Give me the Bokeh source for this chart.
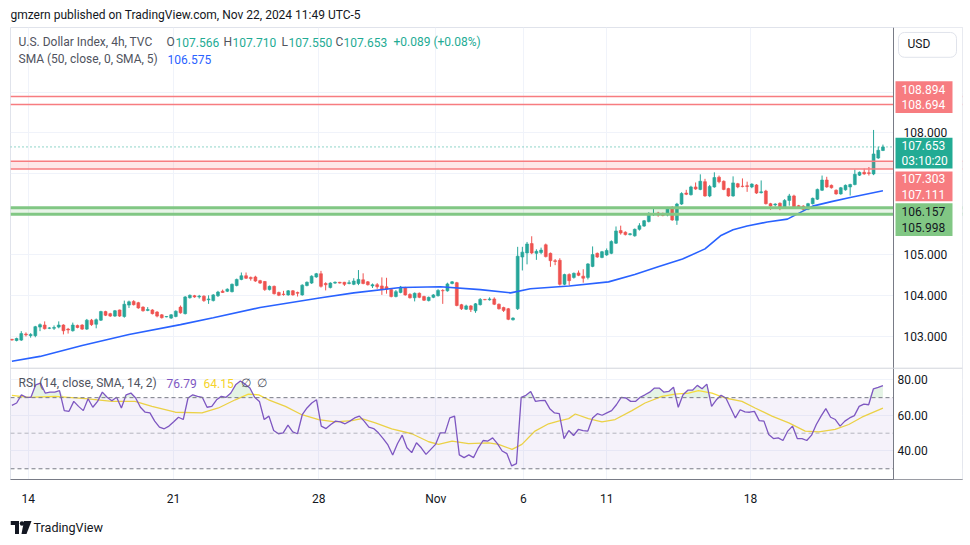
import numpy as np
from bokeh.plotting import figure
from bokeh.layouts import column
from bokeh.models import Range1d, FixedTicker, Span, BoxAnnotation, Label, ColumnDataSource
from bokeh.embed import file_html
from bokeh.resources import INLINE

# ---------------- data ----------------
opens = [102.93, 102.90, 102.91, 103.06, 103.02, 103.02, 103.23, 103.28, 103.20, 103.20,
         103.23, 103.28, 103.18, 103.14, 103.27, 103.28, 103.18, 103.40, 103.30, 103.40,
         103.61, 103.56, 103.50, 103.65, 103.49, 103.77, 103.86, 103.83, 103.72, 103.64,
         103.65, 103.60, 103.53, 103.48, 103.45, 103.49, 103.72,
         103.56, 103.95, 104.00, 103.97, 103.99, 103.90, 103.88, 104.00, 104.11, 104.11,
         104.10, 104.25, 104.40, 104.49, 104.45, 104.46, 104.37, 104.35, 104.15, 104.23,
         104.08, 104.04, 104.02, 104.12, 104.08, 104.02, 104.25, 104.31, 104.46, 104.54,
         104.30, 104.20, 104.31, 104.33, 104.33, 104.30, 104.28,
         104.30, 104.39, 104.34, 104.24, 104.27, 104.24, 104.22, 104.15, 103.98, 104.08,
         104.20, 104.03, 103.95, 104.06, 103.98, 103.88, 103.96, 104.00, 104.13, 104.12,
         104.30, 104.32, 103.78, 103.67, 103.75, 103.63, 103.78, 103.91, 103.90, 103.92,
         103.79, 103.71, 103.68, 103.41, 103.68, 104.95, 105.05,
         105.28, 105.04, 105.06, 105.25, 105.04, 104.86, 104.87, 104.28, 104.52, 104.45,
         104.56, 104.48, 104.45, 104.72, 105.04, 104.94, 105.00, 105.04, 105.29, 105.60,
         105.56, 105.50, 105.47, 105.63, 105.71, 105.82, 105.99, 106.03, 106.02, 105.98,
         106.16, 105.85, 106.25, 106.52, 106.48, 106.67, 106.61,
         106.80, 106.45, 106.67, 106.91, 106.81, 106.63, 106.45, 106.75, 106.69, 106.70,
         106.67, 106.72, 106.53, 106.57, 106.26, 106.23, 106.27, 106.15, 106.34, 106.45,
         106.21, 106.20, 106.12, 106.26, 106.37, 106.59, 106.84, 106.71, 106.59, 106.50,
         106.60, 106.67, 106.73, 106.96, 107.03, 107.02, 106.99, 107.38, 107.566]
highs = [102.94, 102.97, 103.13, 103.10, 103.08, 103.26, 103.32, 103.37, 103.23, 103.27,
         103.37, 103.30, 103.21, 103.34, 103.29, 103.30, 103.43, 103.43, 103.44, 103.63,
         103.63, 103.58, 103.65, 103.66, 103.88, 103.88, 103.89, 103.85, 103.74, 103.72,
         103.67, 103.62, 103.55, 103.50, 103.55, 103.64, 103.76,
         103.99, 104.03, 104.02, 104.02, 104.01, 104.01, 104.04, 104.12, 104.15, 104.18,
         104.30, 104.42, 104.57, 104.57, 104.47, 104.49, 104.39, 104.36, 104.25, 104.25,
         104.10, 104.12, 104.14, 104.14, 104.10, 104.28, 104.35, 104.50, 104.56, 104.61,
         104.33, 104.33, 104.35, 104.34, 104.34, 104.38, 104.43,
         104.63, 104.55, 104.36, 104.30, 104.31, 104.45, 104.44, 104.18, 104.14, 104.24,
         104.22, 104.06, 104.08, 104.08, 104.00, 103.98, 104.04, 104.16, 104.16, 104.32,
         104.36, 104.34, 103.80, 103.78, 103.77, 103.82, 103.94, 103.92, 103.96, 103.96,
         103.81, 103.73, 103.70, 103.47, 105.20, 105.20, 105.32,
         105.46, 105.14, 105.18, 105.28, 105.06, 104.90, 104.92, 104.54, 104.55, 104.57,
         104.62, 104.65, 104.80, 105.21, 105.06, 105.10, 105.16, 105.36, 105.70, 105.72,
         105.58, 105.54, 105.65, 105.78, 105.86, 106.05, 106.17, 106.06, 106.04, 106.18,
         106.20, 106.28, 106.54, 106.60, 106.70, 106.78, 106.98,
         106.87, 106.72, 107.03, 106.95, 106.83, 106.65, 106.93, 106.77, 106.88, 106.80,
         106.76, 106.74, 106.83, 106.60, 106.28, 106.27, 106.29, 106.37, 106.50, 106.48,
         106.23, 106.22, 106.28, 106.41, 106.63, 106.95, 106.92, 106.73, 106.61, 106.67,
         106.73, 106.75, 107.10, 107.05, 107.12, 107.16, 108.07, 107.66, 107.710]
lows = [102.90, 102.88, 102.89, 103.00, 102.97, 102.98, 103.13, 103.17, 103.18, 103.16,
        103.20, 103.05, 103.07, 103.12, 103.20, 103.16, 103.16, 103.26, 103.20, 103.38,
        103.50, 103.48, 103.48, 103.48, 103.46, 103.70, 103.76, 103.68, 103.61, 103.62,
        103.54, 103.47, 103.44, 103.47, 103.43, 103.47, 103.56,
        103.54, 103.93, 103.95, 103.93, 103.85, 103.80, 103.86, 103.97, 104.07, 104.09,
        104.08, 104.23, 104.38, 104.41, 104.37, 104.34, 104.29, 104.12, 104.13, 104.03,
        103.99, 104.00, 104.00, 104.00, 103.98, 104.00, 104.23, 104.29, 104.44, 104.20,
        104.13, 104.18, 104.29, 104.30, 104.24, 104.28, 104.26,
        104.26, 104.28, 104.25, 104.19, 104.17, 104.02, 104.05, 103.96, 103.96, 104.06,
        104.00, 103.93, 103.86, 103.94, 103.87, 103.86, 103.94, 103.98, 103.80, 104.10,
        104.28, 103.74, 103.65, 103.65, 103.60, 103.58, 103.76, 103.89, 103.88, 103.77,
        103.66, 103.60, 103.40, 103.39, 103.65, 104.62, 104.77,
        105.02, 104.88, 105.02, 104.94, 104.71, 104.75, 104.25, 104.26, 104.25, 104.42,
        104.48, 104.32, 104.40, 104.70, 104.93, 104.92, 104.98, 105.02, 105.27, 105.50,
        105.48, 105.48, 105.45, 105.60, 105.69, 105.80, 105.96, 105.94, 105.95, 105.95,
        105.84, 105.74, 106.23, 106.47, 106.46, 106.60, 106.59,
        106.43, 106.42, 106.65, 106.76, 106.59, 106.43, 106.43, 106.64, 106.66, 106.55,
        106.64, 106.50, 106.51, 106.24, 106.11, 106.19, 106.10, 106.13, 106.21, 106.16,
        106.13, 106.10, 106.10, 106.24, 106.35, 106.57, 106.65, 106.63, 106.48, 106.48,
        106.58, 106.46, 106.71, 106.94, 106.97, 106.95, 106.96, 107.36, 107.550]
closes = [102.91, 102.95, 103.07, 103.04, 103.05, 103.24, 103.29, 103.19, 103.21, 103.22,
          103.28, 103.14, 103.16, 103.28, 103.22, 103.18, 103.40, 103.29, 103.41, 103.61,
          103.52, 103.50, 103.63, 103.50, 103.79, 103.85, 103.78, 103.70, 103.63, 103.66,
          103.56, 103.50, 103.46, 103.49, 103.53, 103.62, 103.58,
          103.97, 104.01, 103.97, 103.99, 103.88, 103.92, 104.02, 104.09, 104.08, 104.16,
          104.28, 104.40, 104.49, 104.43, 104.42, 104.36, 104.31, 104.15, 104.23, 104.05,
          104.01, 104.03, 104.12, 104.02, 104.06, 104.26, 104.33, 104.48, 104.54, 104.23,
          104.27, 104.31, 104.33, 104.31, 104.28, 104.32, 104.36,
          104.40, 104.30, 104.27, 104.27, 104.22, 104.16, 104.16, 103.98, 104.10, 104.21,
          104.02, 103.95, 104.06, 103.96, 103.89, 103.96, 104.02, 104.13, 104.12, 104.29,
          104.34, 103.76, 103.68, 103.75, 103.66, 103.80, 103.91, 103.90, 103.92, 103.79,
          103.68, 103.64, 103.42, 103.45, 104.97, 105.07, 105.27,
          105.05, 105.09, 105.12, 104.96, 104.86, 104.84, 104.28, 104.52, 104.37, 104.55,
          104.50, 104.43, 104.78, 105.01, 104.95, 105.08, 105.11, 105.33, 105.59, 105.54,
          105.50, 105.52, 105.63, 105.72, 105.84, 106.02, 106.01, 105.98, 105.97, 106.15,
          105.86, 106.25, 106.51, 106.49, 106.67, 106.62, 106.81,
          106.45, 106.68, 106.90, 106.80, 106.61, 106.45, 106.77, 106.67, 106.68, 106.68,
          106.74, 106.52, 106.55, 106.26, 106.20, 106.25, 106.17, 106.34, 106.45, 106.18,
          106.15, 106.12, 106.26, 106.39, 106.61, 106.84, 106.67, 106.65, 106.50, 106.65,
          106.71, 106.73, 106.98, 107.03, 106.99, 107.00, 107.48, 107.57, 107.653]

sma_x = [0, 6, 15, 25, 36, 43, 53, 66, 73, 83, 91.5, 100, 106.5, 110.7, 119, 127.4, 133,
         138, 143.2, 148, 151.3, 154, 157, 161.3, 165.6, 171, 175, 179, 186]
sma_v = [102.39, 102.51, 102.78, 103.05, 103.29, 103.46, 103.71, 103.95, 104.07, 104.20,
         104.22, 104.15, 104.07, 104.17, 104.24, 104.34, 104.52, 104.71, 104.90, 105.15,
         105.47, 105.62, 105.71, 105.81, 105.88, 106.20, 106.31, 106.41, 106.575]

rsi = [65.7, 67.0, 71.6, 70.2, 70.2, 77.2, 78.2, 72.6, 73.1, 73.1,
       73.9, 62.7, 62.3, 67.9, 65.1, 62.7, 69.4, 64.6, 67.9, 73.1,
       70.2, 68.3, 70.2, 64.2, 71.6, 72.6, 69.8, 64.6, 61.8, 61.4,
       56.8, 53.4, 52.5, 54.0, 56.4, 59.0, 57.7, 69.8, 71.6, 70.7,
       70.2, 64.6, 65.1, 68.8, 70.7, 70.2, 72.6, 77.2, 79.4, 77.6,
       75.4, 70.2, 67.9, 57.7, 59.6, 51.5, 49.7, 50.2, 54.5, 50.8,
       49.7, 60.4, 64.2, 67.0, 68.8, 54.0, 52.6, 54.9, 56.8, 56.4,
       55.3, 56.8, 58.6, 59.6, 56.8, 53.4, 52.6, 50.2, 47.0, 43.4,
       37.8, 44.1, 48.9, 41.8, 39.1, 44.6, 41.8, 38.1, 40.9, 43.7,
       50.2, 50.2, 58.6, 59.6,
       37.8, 36.3, 37.8, 36.3, 41.8, 45.9, 45.6, 47.4, 44.1, 40.0,
       38.5, 31.6, 32.9, 70.2, 71.3, 73.5, 67.9, 68.3, 68.5, 63.8,
       61.4, 61.0, 47.0, 51.5, 48.7, 52.1, 51.5, 51.2, 58.6, 61.0,
       60.1, 61.4, 62.7, 66.0, 70.2, 69.8, 67.9, 67.9, 70.2, 71.6,
       73.1, 75.4, 75.4, 73.1, 73.5, 75.9, 64.6, 71.6, 74.2, 74.2,
       76.9, 75.0, 77.6, 65.1, 68.8, 71.3, 69.8, 64.2, 58.6, 63.2,
       62.0, 61.8, 62.3, 57.1, 56.8, 49.3, 47.0, 47.4, 45.9, 51.2,
       54.0, 47.0, 47.0, 45.9, 48.9, 54.9, 59.6, 63.8, 59.0, 57.7,
       54.0, 56.8, 58.6, 59.9, 65.1, 66.4, 66.0, 75.0, 75.8, 76.79]

rsi_ma_x = [0, 3.6, 9.2, 15.7, 21.4, 26.3, 29.9, 34.9, 40.6, 44.1, 47.7, 50.5, 52.7,
            54.8, 58.4, 61.9, 65.5, 69.0, 72.6, 74.7, 77.6, 81.1, 85.4, 89.0, 91.1,
            94.0, 97.5, 101.8, 103.9, 106.8, 108.9, 111.7, 114.6, 116.7, 118.9, 120.3,
            123.1, 126.0, 128.8, 132.4, 135.2, 138.8, 141.6, 144.5, 146.6, 149.5, 152.3,
            155.9, 158.7, 162.3, 165.9, 169.4, 172.3, 175.8, 178.7, 181.5, 186]
rsi_ma_v = [71.3, 70.2, 70.7, 69.4, 67.9, 67.9, 65.1, 61.8, 61.4, 64.2, 68.8, 72.0, 71.6,
            68.8, 65.1, 60.4, 57.7, 56.4, 57.1, 58.2, 55.8, 52.5, 49.7, 45.2, 43.7,
            45.6, 44.1, 44.6, 43.7, 40.9, 43.7, 51.2, 55.3, 56.8, 58.2, 60.8,
            58.2, 56.4, 57.7, 62.7, 67.0, 70.7, 72.0, 72.6, 73.9, 72.6, 69.8,
            67.9, 64.2, 59.6, 55.8, 51.2, 50.8, 52.1, 54.9, 59.0, 64.15]

levels_red_top = [108.894, 108.694]
levels_red_mid = [107.303, 107.111]
levels_green = [106.157, 105.998]
last_price = 107.653

date_ticks = [3.5, 34.5, 65.5, 90.5, 109.2, 127.0, 157.7]
date_labels = ["14", "21", "28", "Nov", "6", "11", "18"]
price_ticks = [103, 104, 105, 108]
price_labels = ["103.000", "104.000", "105.000", "108.000"]
grid_ticks = [103, 104, 105, 106, 107, 108, 109]
rsi_ticks = [40, 60, 80]
rsi_labels = ["40.00", "60.00", "80.00"]

# ---------------- layout constants ----------------
FONT = "Roboto"
UP, DOWN = "#26a69a", "#ef5350"
TEAL = "#22ab94"
GRAY = "#50535e"
INK = "#131722"
PINK = "#f77c80"
GREEN = "#81c784"
WIN_W = 970
HEAD_H = 27
X0, PXB = -0.3, 4.683            # first visible bar index, pixels per bar
FRAME_L, SCALE_L, FRAME_R, FRAME_B = 10, 893, 962, 482
PRICE_TOP, PRICE_BOT = 110.585, 99.488
RSI_TOP, RSI_BOT = 278.16, 23.97
PANE_SPLIT = 102.22


def dx(px):   # page pixel column -> bar index
    return X0 + (px - FRAME_L) / PXB


def dy(py):   # page pixel row -> price
    return 108 - (py - 133) / 41


def bare(h, ytop, ybot):
    # frames of the stacked figures are aligned by the layout: use the same side borders
    f = figure(width=WIN_W, height=h, output_backend="svg", toolbar_location=None,
               x_range=Range1d(FRAME_L, FRAME_R), y_range=Range1d(ybot, ytop),
               x_axis_location=None, y_axis_location=None,
               min_border_left=FRAME_L, min_border_right=WIN_W - FRAME_R,
               min_border_top=0, min_border_bottom=0)
    f.grid.visible = False
    f.outline_line_color = None
    return f


# ---------------- header ----------------
head = bare(HEAD_H, 0, HEAD_H)
head.add_layout(Label(x=10, y=14, text="gmzern published on TradingView.com, Nov 22, 2024 11:49 UTC-5",
                      text_font=FONT, text_font_size="12px", text_color=INK,
                      text_baseline="middle", text_align="left"))

# ---------------- main chart ----------------
main_h = (FRAME_B - HEAD_H) + 26
p = figure(width=WIN_W, height=main_h, output_backend="svg", toolbar_location=None,
           x_range=Range1d(X0, dx(FRAME_R)), y_range=Range1d(PRICE_BOT, PRICE_TOP),
           y_axis_location=None,
           min_border_left=FRAME_L, min_border_right=WIN_W - FRAME_R,
           min_border_top=0, min_border_bottom=26)
p.extra_y_ranges = {"rsi": Range1d(RSI_BOT, RSI_TOP)}
p.background_fill_color = "white"
p.border_fill_color = "white"
p.outline_line_color = "#e0e3eb"

xa = p.xaxis[0]
xa.ticker = FixedTicker(ticks=date_ticks)
xa.major_label_overrides = {t: l for t, l in zip(date_ticks, date_labels)}
xa.major_tick_line_color = None
xa.minor_tick_line_color = None
xa.axis_line_color = "#787b86"
xa.major_label_text_font = FONT
xa.major_label_text_font_size = "12px"
xa.major_label_text_color = INK
xa.major_label_standoff = 6


def rsi_to_price(r):
    return PRICE_BOT + (r - RSI_BOT) * (PRICE_TOP - PRICE_BOT) / (RSI_TOP - RSI_BOT)


p.ygrid[0].ticker = FixedTicker(ticks=grid_ticks + [rsi_to_price(r) for r in rsi_ticks])
p.ygrid[0].grid_line_color = "#f0f3fa"
p.xgrid[0].ticker = FixedTicker(ticks=date_ticks)
p.xgrid[0].grid_line_color = "#f0f3fa"

# levels
p.add_layout(BoxAnnotation(bottom=levels_red_mid[1], top=levels_red_mid[0], fill_color="#f7525f",
                           fill_alpha=0.14, line_alpha=0))
p.add_layout(BoxAnnotation(bottom=levels_green[1], top=levels_green[0], fill_color="#4caf50",
                           fill_alpha=0.13, line_alpha=0))
for lv in levels_red_top + levels_red_mid:
    p.add_layout(Span(location=lv, dimension="width", line_color=PINK, line_width=1.5))
for lv in levels_green:
    p.add_layout(Span(location=lv, dimension="width", line_color=GREEN, line_width=3))
p.add_layout(Span(location=last_price, dimension="width", line_color=TEAL,
                  line_width=1, line_dash="1 3"))

# candles
idx = list(range(len(opens)))
col = [UP if c >= o else DOWN for o, c in zip(opens, closes)]
src = ColumnDataSource(dict(x=idx, o=opens, h=highs, l=lows, c=closes,
                            top=[max(o, c) for o, c in zip(opens, closes)],
                            bot=[min(o, c) for o, c in zip(opens, closes)], col=col))
p.segment(x0="x", y0="l", x1="x", y1="h", color="col", line_width=1, source=src)
p.vbar(x="x", top="top", bottom="bot", width=0.62, fill_color="col", line_color="col",
       line_width=0.6, source=src)

# SMA 50
p.line(sma_x, sma_v, line_color="#2962ff", line_width=1.6)

# RSI pane
p.add_layout(BoxAnnotation(bottom=30, top=70, y_range_name="rsi", fill_color="#7e57c2",
                           fill_alpha=0.08, line_alpha=0))
rsi_x = np.linspace(0, len(opens) - 1, len(rsi))
rsi_arr = np.array(rsi)
p.varea(x=rsi_x, y1=np.full(len(rsi), 70.0), y2=np.maximum(rsi_arr, 70.0),
        fill_color="#4caf50", fill_alpha=0.15, y_range_name="rsi")
for lv, a in [(70, 1.0), (50, 0.5), (30, 1.0)]:
    p.add_layout(Span(location=lv, dimension="width", y_range_name="rsi", line_color="#787b86",
                      line_alpha=a, line_dash="4 3", line_width=1))
p.line(rsi_ma_x, rsi_ma_v, line_color="#f5dc3c", line_width=1.3, y_range_name="rsi")
p.line(rsi_x, rsi, line_color="#7e57c2", line_width=1.3, y_range_name="rsi")

# price-scale strip on the right (inside the frame)
p.add_layout(BoxAnnotation(left=dx(SCALE_L), fill_color="white", fill_alpha=1, line_alpha=0))
p.add_layout(Span(location=dx(SCALE_L), dimension="height", line_color="#787b86", line_width=1))
p.add_layout(Span(location=PANE_SPLIT, dimension="width", line_color="#d1d4dc", line_width=1))


def put(text, px, y, color, size="12px", weight="normal", rng="default"):
    p.add_layout(Label(x=dx(px), y=y, text=text, text_color=color, text_font=FONT,
                       text_font_size=size, text_font_style=weight, y_range_name=rng,
                       text_baseline="middle", text_align="left"))


def badge(px0, px1, py0, py1, fill, line=None, radius=0):
    p.add_layout(BoxAnnotation(left=dx(px0), right=dx(px1), top=dy(py0), bottom=dy(py1),
                               fill_color=fill, fill_alpha=1,
                               line_color=line if line else fill, line_alpha=1 if line else 0,
                               border_radius=radius))


for t, l in zip(price_ticks, price_labels):
    put(l, 903, t, INK)
for t, l in zip(rsi_ticks, rsi_labels):
    put(l, 897, t, INK, rng="rsi")

badge(898, 956, 32, 57, "white", line="#e0e3eb", radius=6)
put("USD", 907, dy(44), INK)
badge(895, 952, 81, 113, PINK)
put("108.894", 901, dy(89), "white")
put("108.694", 901, dy(105), "white")
badge(895, 952, 138, 169, TEAL)
put("107.653", 901, dy(146), "white")
put("03:10:20", 901, dy(161), "white")
badge(895, 952, 172, 202, PINK)
put("107.303", 901, dy(179), "white")
put("107.111", 901, dy(195), "white")
badge(895, 952, 204, 237, GREEN)
put("106.157", 901, dy(212), INK)
put("105.998", 901, dy(228), INK)

# legends
put("U.S. Dollar Index, 4h, TVC", 18, dy(42), GRAY)
for t, x0, c in [("O", 166, GRAY), ("107.566", 175, TEAL), ("H", 223, GRAY), ("107.710", 232, TEAL),
                 ("L", 281, GRAY), ("107.550", 288, TEAL), ("C", 335, GRAY), ("107.653", 343, TEAL),
                 ("+0.089 (+0.08%)", 393, TEAL)]:
    put(t, x0, dy(42), c)
put("SMA (50, close, 0, SMA, 5)", 18, dy(59), GRAY)
put("106.575", 167, dy(59), "#2962ff")
put("RSI (14, close, SMA, 14, 2)", 18, dy(385), GRAY)
put("76.79", 166, dy(385), "#7e57c2")
put("64.15", 203, dy(385), "#f5d32a")
put("\u2205", 240, dy(385), GRAY)
put("\u2205", 256, dy(385), GRAY)

# ---------------- footer (logo) ----------------
FOOT_TOP, FOOT_BOT = FRAME_B + 26, 543
foot = bare(FOOT_BOT - FOOT_TOP, FOOT_TOP, FOOT_BOT)
foot.quad(left=[10, 14.5], right=[18.5, 18.5], top=[520.5, 520.5], bottom=[524.5, 533.5],
          fill_color=INK, line_color=None)
foot.scatter([21.5], [523], size=4.5, fill_color=INK, line_color=None)
foot.patch([23.5, 31, 26, 21], [520.5, 520.5, 533.5, 533.5], fill_color=INK, line_color=None)
foot.add_layout(Label(x=33, y=527, text="TradingView", text_font=FONT, text_font_size="12.6px",
                      text_color=INK, text_baseline="middle", text_align="left"))

layout = column(head, p, foot, spacing=0)
open("out.html", "w").write(file_html(layout, INLINE))
